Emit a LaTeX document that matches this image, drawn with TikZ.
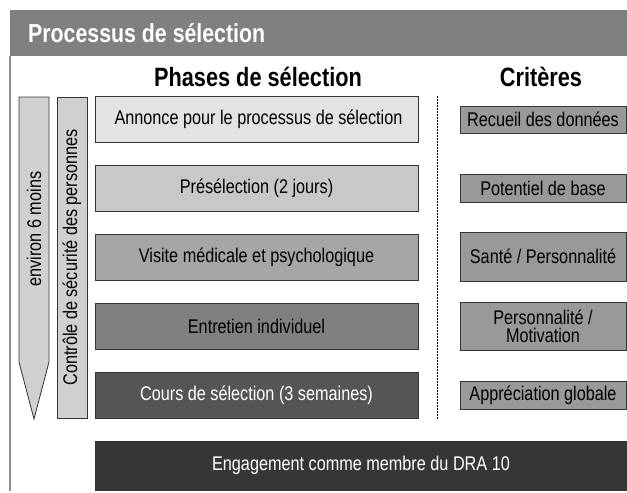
\documentclass[tikz,border=0pt]{standalone}
\usepackage{fontspec}
\setmainfont{Liberation Sans}[FakeStretch=0.82]
\definecolor{headgray}{HTML}{808080}
\definecolor{bordergray}{HTML}{8C8C8C}
\definecolor{barfill}{HTML}{D0D0D0}
\definecolor{edgegray}{HTML}{333333}
\definecolor{pA}{HTML}{E3E3E3}
\definecolor{pB}{HTML}{C8C8C8}
\definecolor{pC}{HTML}{A6A6A6}
\definecolor{pD}{HTML}{808080}
\definecolor{pE}{HTML}{555555}
\definecolor{pF}{HTML}{363636}
\definecolor{critfill}{HTML}{999999}
\begin{document}
\begin{tikzpicture}[x=1pt,y=-1pt,
  boxtext/.style={font=\fontsize{19.8}{21}\selectfont},
  phase/.style={boxtext, draw=edgegray, line width=0.8pt, anchor=north west,
    minimum width=323pt, minimum height=46pt, inner sep=0pt, outer sep=0pt},
  crit/.style={boxtext, draw=edgegray, fill=critfill, line width=0.8pt, anchor=north west,
    minimum width=166pt, inner sep=0pt, outer sep=0pt, align=center},
  heading/.style={font=\bfseries\fontsize{26.5}{29}\selectfont, inner sep=0pt},
  sidebar/.style={draw=edgegray, fill=barfill, line width=0.8pt},
]
\useasboundingbox (0,0) rectangle (627,493);
% header band
\fill[headgray] (10,10) rectangle (627,56);
\node[heading, font=\bfseries\fontsize{26}{29}\selectfont, anchor=west, text=white] (title) at (28,33) {Processus de sélection};
\draw[bordergray, line width=1.2pt] (10,56) -- (10,491);
% column headings
\node[heading] (hphases) at (258,77) {Phases de sélection};
\node[heading] (hcrit) at (541,77) {Critères};
% left arrow
\draw[sidebar] (19,97) -- (49,97) -- (49,362) -- (34,419) -- (19,362) -- cycle;
\node[boxtext, rotate=90] (duree) at (34,229) {environ 6 moins};
% security bar
\node[sidebar, boxtext, rotate=90, minimum width=321pt, minimum height=30pt,
  inner sep=0pt, outer sep=0pt] (secu) at (72,257.5) {Contrôle de sécurité des personnes};
% phases
\node[phase, fill=pA] (annonce) at (95,96) {\hspace*{4pt}Annonce pour le processus de sélection};
\node[phase, fill=pB] (presel) at (95,165) {Présélection (2 jours)};
\node[phase, fill=pC] (visite) at (95,234) {Visite médicale et psychologique};
\node[phase, fill=pD] (entretien) at (95,303) {Entretien individuel};
\node[phase, fill=pE, text=white] (cours) at (95,372) {Cours de sélection (3 semaines)};
\node[phase, fill=pF, text=white, minimum width=534pt, minimum height=49pt] (engage) at (95,441) {\hspace*{-2pt}Engagement comme membre du DRA 10};
% dashed separator
\coordinate (dtop) at (437,96);
\coordinate (dbot) at (437,419);
\draw[black, line width=1pt, dash pattern=on 2pt off 1pt] (dtop) -- (dbot);
% criteria
\node[crit, minimum height=27pt] (recueil) at (460,106) {Recueil des données};
\node[crit, minimum height=28pt] (potentiel) at (460,174) {Potentiel de base};
\node[crit, minimum height=49pt] (sante) at (460,232) {Santé / Personnalité};
\node[crit, minimum height=48pt] (motiv) at (460,302) {Personnalité /\\[-3pt] Motivation};
\node[crit, minimum height=28pt] (appre) at (460,381) {Appréciation globale};
\end{tikzpicture}
\end{document}
